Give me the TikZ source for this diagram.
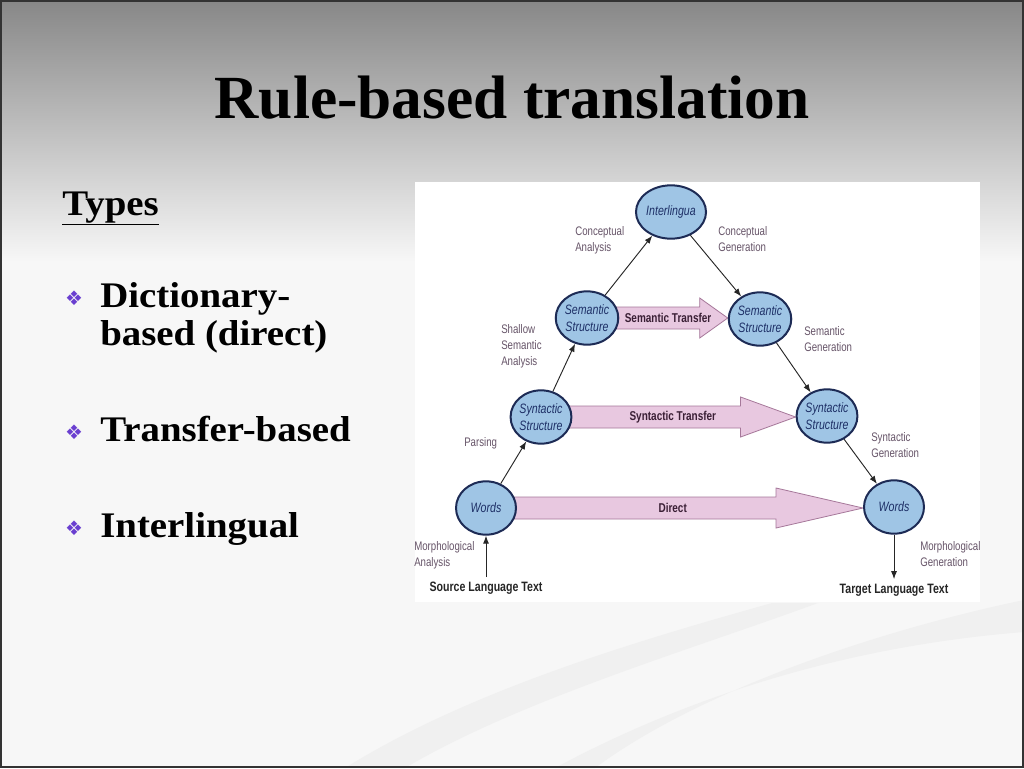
\documentclass[tikz,border=0pt]{standalone}
\usepackage{fontspec}
\setmainfont{Liberation Serif}
\newfontfamily\slidefont[FakeStretch=1.08]{Liberation Serif}
\newfontfamily\diagfont[FakeStretch=0.78]{Liberation Sans}
\newfontfamily\symfont{DejaVu Sans}
\usetikzlibrary{arrows.meta,shapes.geometric,calc,backgrounds}

\definecolor{stagefill}{HTML}{9FC5E5}
\definecolor{stageline}{HTML}{1D2B55}
\definecolor{stagetext}{HTML}{1D2F66}
\definecolor{transfill}{HTML}{E8C8E0}
\definecolor{transline}{HTML}{A6789A}
\definecolor{transtext}{HTML}{3A1F35}
\definecolor{notetext}{HTML}{665468}
\definecolor{bulletcol}{HTML}{6A3FD0}

\tikzset{
  stage/.style={ellipse, draw=stageline, line width=1.5pt, fill=stagefill,
    minimum width=45pt, minimum height=40pt, inner sep=0pt, align=center,
    font=\diagfont\itshape\fontsize{10.2}{13}\selectfont, text=stagetext},
  flow/.style={-{Latex[length=6pt,width=4.5pt]}, line width=0.7pt, black!85},
  note/.style={anchor=west, align=left, inner sep=0pt,
    font=\diagfont\fontsize{9.3}{12}\selectfont, text=notetext},
  transfer/.style={draw=transline, line width=0.6pt, fill=transfill},
  transfertext/.style={font=\diagfont\bfseries\fontsize{9.6}{11}\selectfont, text=transtext},
  endtext/.style={font=\diagfont\bfseries\fontsize{10.2}{12}\selectfont, text=black!85},
  item/.style={anchor=base west, inner sep=0pt,
    font=\slidefont\bfseries\fontsize{27}{28}\selectfont},
  bullet/.style={inner sep=0pt, font=\symfont\fontsize{15}{15}\selectfont, text=bulletcol}
}

% wide arrow between two stages: from, to, head length, label
\newcommand{\blockarrow}[4]{%
  \draw[transfer] ($(#1.east)+(-4,-11)$) -- ($(#2.west |- #1.east)+(-#3,-11)$)
    -- ++(0,-9) -- (#2.west |- #1.east) -- ($(#2.west |- #1.east)+(-#3,20)$)
    -- ++(0,-9) -- ($(#1.east)+(-4,11)$) -- cycle;
  \node[transfertext] at ($(#1.east)!0.45!(#2.west |- #1.east)$) {#4};
}

\begin{document}
\begin{tikzpicture}[x=0.75pt,y=-0.75pt]
  \useasboundingbox (0,0) rectangle (1024,768);

  % title and list
  \node[anchor=base, font=\bfseries\fontsize{46}{48}\selectfont] (title) at (512,118) {Rule-based translation};
  \node[item] (types) at (62,215) {\underline{Types}};

  \node[item] (dict) at (100,307) {Dictionary-};
  \node[item] (dict2) at (100,345) {based (direct)};
  \node[item] (trans) at (100,441) {Transfer-based};
  \node[item] (inter) at (100,537) {Interlingual};
  \foreach \y in {298,432,528}
    \node[bullet] at (74,\y) {❖};

  % stages
  \node[stage, minimum width=48pt] (interlingua) at (671,212) {Interlingua};
  \node[stage] (semL) at (587,318) {Semantic\\Structure};
  \node[stage] (semR) at (760,319) {Semantic\\Structure};
  \node[stage] (synL) at (541,417) {Syntactic\\Structure};
  \node[stage] (synR) at (827,416) {Syntactic\\Structure};
  \node[stage] (wordsL) at (486,508) {Words};
  \node[stage] (wordsR) at (894,507) {Words};

  \node[endtext] (source) at (486,588) {Source Language Text};
  \node[endtext] (target) at (894,590) {Target Language Text};

  \draw[flow] (source) -- (wordsL);
  \draw[flow] (wordsL) -- (synL);
  \draw[flow] (synL) -- (semL);
  \draw[flow] (semL) -- (interlingua);
  \draw[flow] (interlingua) -- (semR);
  \draw[flow] (semR) -- (synR);
  \draw[flow] (synR) -- (wordsR);
  \draw[flow] (wordsR) -- (target);

  \node[note] at (575,240) {Conceptual\\Analysis};
  \node[note] at (718,239) {Conceptual\\Generation};
  \node[note] at (501,346) {Shallow\\Semantic\\Analysis};
  \node[note] at (804,339) {Semantic\\Generation};
  \node[note] at (464,443) {Parsing};
  \node[note] at (871,445) {Syntactic\\Generation};
  \node[note] at (414,555) {Morphological\\Analysis};
  \node[note] at (920,554) {Morphological\\Generation};

  \begin{scope}[on background layer]
    \fill[black!3] (0,0) rectangle (1024,768);
    \shade[top color=black!47, bottom color=black!3] (0,0) rectangle (1024,262);
    \fill[black!6] (345,768) .. controls (470,690) and (640,640) .. (772,603)
      -- (818,603) .. controls (690,650) and (520,700) .. (405,768) -- cycle;
    \fill[black!6] (555,768) .. controls (700,690) and (860,645) .. (1024,632)
      -- (1024,600) .. controls (880,630) and (700,690) .. (595,768) -- cycle;
    \fill[white] (415,182) rectangle (980,602);
    \blockarrow{semL}{semR}{28}{Semantic Transfer}
    \blockarrow{synL}{synR}{55}{Syntactic Transfer}
    \blockarrow{wordsL}{wordsR}{87}{Direct}
  \end{scope}

  \draw[black!80, line width=1.5pt] (1,1) rectangle (1023,767);
\end{tikzpicture}
\end{document}
